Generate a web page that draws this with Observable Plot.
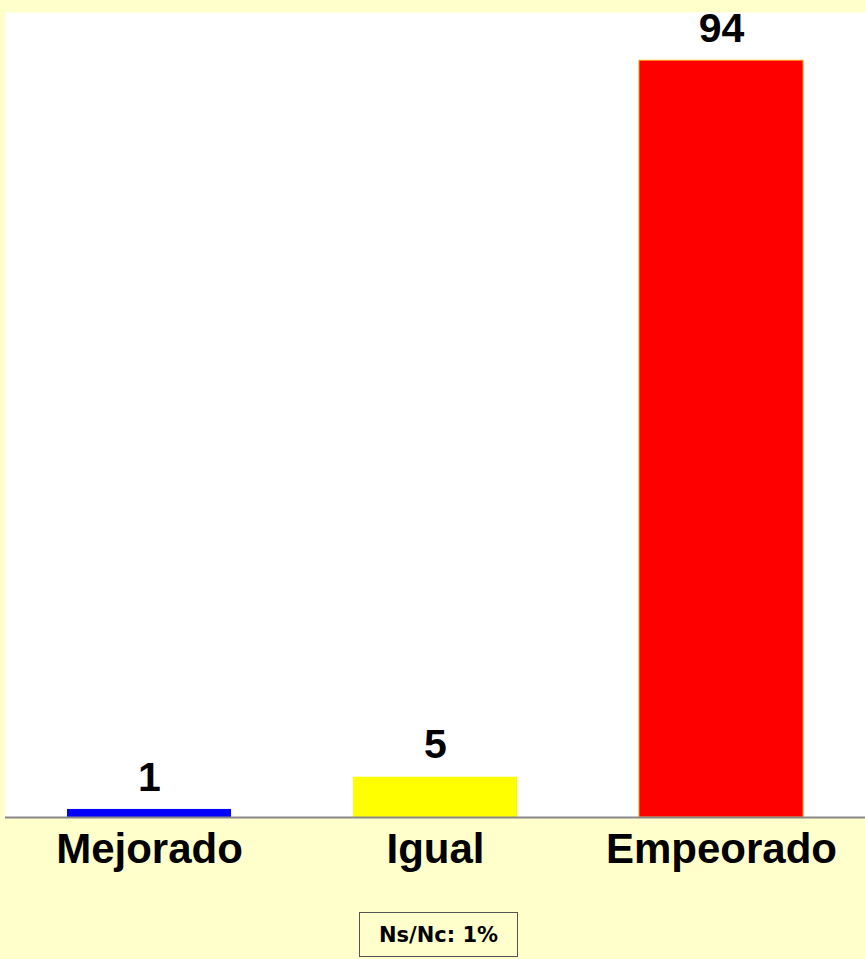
<!DOCTYPE html>
<html>
<head>
<meta charset="utf-8">
<script src="https://cdn.jsdelivr.net/npm/d3@7"></script>
<script src="https://cdn.jsdelivr.net/npm/@observablehq/plot@0.6"></script>
<style>
  html, body { margin: 0; padding: 0; background: #FFFFCC; }
  #chart { width: 865px; }
  #chart svg { display: block; background: transparent; }
  #note {
    position: absolute; left: 359px; top: 912px; width: 159px; height: 45px;
    box-sizing: border-box; border: 1px solid #555; background: #FFFFCC;
    font: bold 21px "DejaVu Sans", sans-serif; color: #000;
    display: flex; align-items: center; justify-content: center;
  }
</style>
</head>
<body>
<div id="chart"></div>
<div id="note">Ns/Nc: 1%</div>
<script>
const categories = ["Mejorado", "Igual", "Empeorado"];
const values = [1, 5, 94];
const data = categories.map((c, i) => ({category: c, value: values[i]}));

const chart = Plot.plot({
  width: 865,
  height: 890,
  marginTop: 12,
  marginLeft: 5,
  marginRight: 0,
  marginBottom: 73,
  style: {background: "transparent", fontFamily: "Liberation Sans, Arial, sans-serif"},
  x: {domain: categories, paddingInner: 0.425, paddingOuter: 0.2125, label: null},
  y: {domain: [0, 100], axis: null},
  color: {domain: categories, range: ["#0000FF", "#FFFF00", "#FF0000"]},
  marks: [
    Plot.frame({fill: "white", stroke: null}),
    Plot.barY(data, {x: "category", y: "value", fill: "category"}),
    Plot.barY(data.filter(d => d.category === "Empeorado"), {
      x: "category", y: "value", fill: "none", stroke: "#FF9900", strokeWidth: 1
    }),
    Plot.ruleY([0], {stroke: "#888888", strokeWidth: 2}),
    Plot.text(data, {
      x: "category", y: "value", text: d => String(d.value),
      dy: -32, fontSize: 41, fontWeight: "bold", fill: "black"
    }),
    Plot.axisX({tickSize: 0, tickPadding: 16, fontSize: 42, fontWeight: "bold", label: null, color: "black"})
  ]
});
document.getElementById("chart").appendChild(chart);
</script>
</body>
</html>
